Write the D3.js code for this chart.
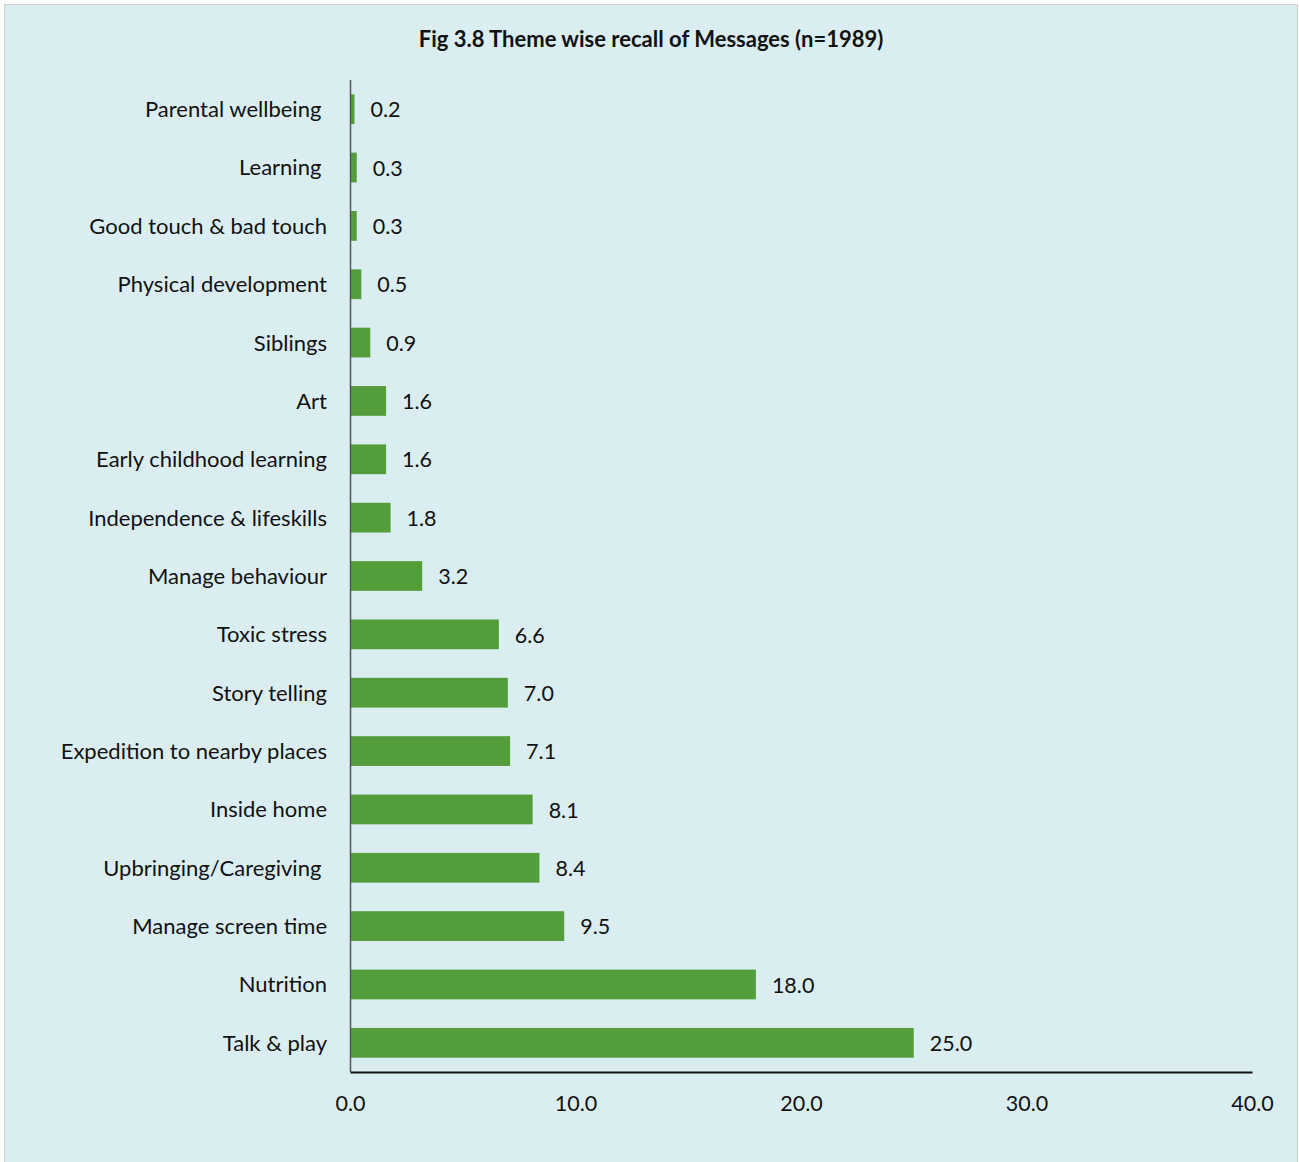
<!DOCTYPE html>
<html><head><meta charset="utf-8">
<script src="https://cdn.jsdelivr.net/npm/d3@7"></script>
<style>
html,body{margin:0;padding:0;background:#fff;}
svg{display:block;}
text{font-family:Lato,"Open Sans",sans-serif;fill:#111;}
</style></head>
<body>
<script>
const categories = ["Parental wellbeing ","Learning ","Good touch & bad touch","Physical development","Siblings","Art","Early childhood learning","Independence & lifeskills","Manage behaviour","Toxic stress","Story telling","Expedition to nearby places","Inside home","Upbringing/Caregiving ","Manage screen time","Nutrition","Talk & play"];
const values = [0.2,0.3,0.3,0.5,0.9,1.6,1.6,1.8,3.2,6.6,7.0,7.1,8.1,8.4,9.5,18.0,25.0];
const xTicks = [0,10,20,30,40];
const title = "Fig 3.8 Theme wise recall of Messages (n=1989)";

const W=1299,H=1162;
const svg=d3.select("body").append("svg").attr("width",W).attr("height",H);
svg.append("rect").attr("x",4.5).attr("y",4.5).attr("width",1293).attr("height",1160)
  .attr("fill","#daeef2").attr("stroke","#d0d0d0").attr("stroke-width",1);

const x=d3.scaleLinear().domain([0,40]).range([350,1252]);
const y=d3.scaleBand().domain(categories).range([80,1072]).paddingInner(0.49).paddingOuter(0.245);

svg.append("text").attr("x",651).attr("y",47).attr("text-anchor","middle")
  .style("font-weight","bold").style("font-size","22px").text(title);

const data=categories.map((c,i)=>({c,v:values[i]}));
svg.selectAll("rect.bar").data(data).enter().append("rect").attr("class","bar")
  .attr("x",x(0)).attr("y",d=>y(d.c)).attr("width",d=>x(d.v)-x(0)).attr("height",y.bandwidth())
  .attr("fill","#539e3b");

svg.selectAll("text.val").data(data).enter().append("text").attr("class","val")
  .attr("x",d=>x(d.v)+16).attr("y",d=>y(d.c)+y.bandwidth()/2).attr("dy","0.38em")
  .style("font-size","21.5px").text(d=>d.v.toFixed(1));

svg.selectAll("text.cat").data(data).enter().append("text").attr("class","cat")
  .attr("x",327).attr("y",d=>y(d.c)+y.bandwidth()/2).attr("dy","0.36em").attr("text-anchor","end")
  .style("font-size","22px").style("white-space","pre").text(d=>d.c);

// y axis line
svg.append("line").attr("x1",350.5).attr("x2",350.5).attr("y1",80).attr("y2",1072)
  .attr("stroke","#555").attr("stroke-width",1.5);

const xAxis=svg.append("g").attr("transform","translate(0,1072)")
  .call(d3.axisBottom(x).tickValues(xTicks).tickSize(0).tickPadding(24).tickFormat(d3.format(".1f")));
xAxis.select(".domain").attr("stroke","#111").attr("stroke-width",2);
xAxis.selectAll("text").style("font-size","21.5px").style("font-family","Lato,'Open Sans',sans-serif").attr("fill","#111");
</script>
</body></html>
